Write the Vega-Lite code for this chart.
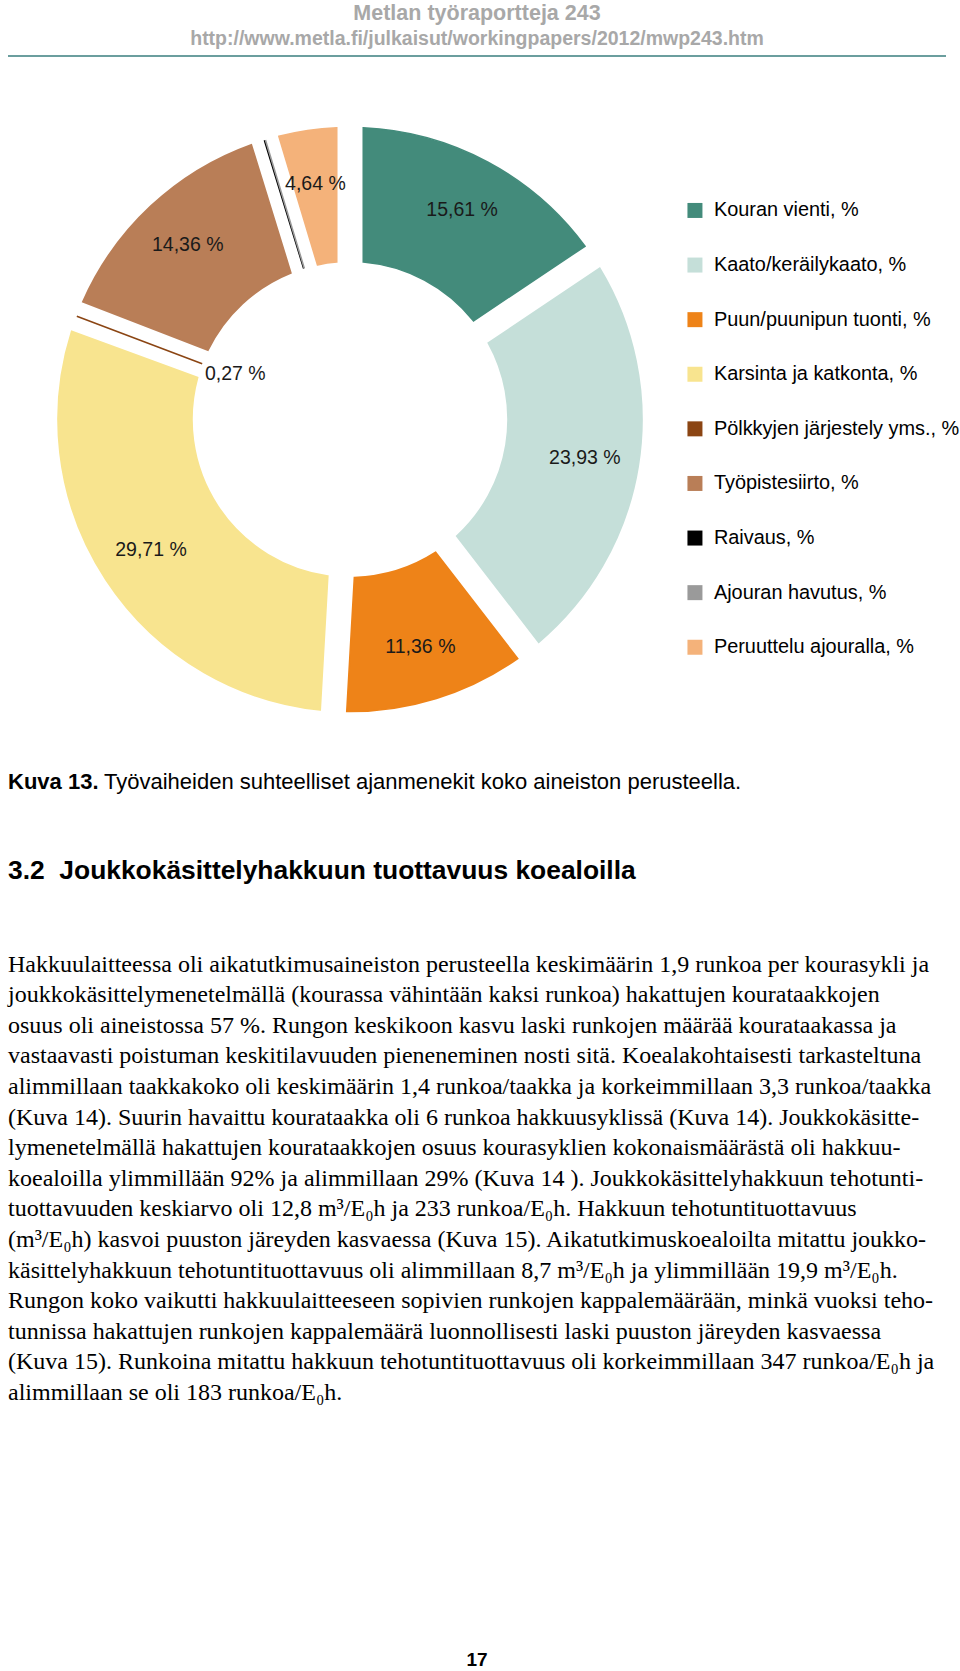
{
  "$schema": "https://vega.github.io/schema/vega-lite/v6.json",
  "background": "white",
  "padding": {"left": 8, "top": 3, "right": 0, "bottom": 0},
  "bounds": "flush",
  "spacing": 0,
  "config": {"view": {"stroke": null}, "font": "Liberation Sans"},
  "datasets": {
    "shares": [
      {"nr": 1, "vaihe": "Kouran vienti, %", "osuus": 15.61, "label": "15,61 %"},
      {"nr": 2, "vaihe": "Kaato/keräilykaato, %", "osuus": 23.93, "label": "23,93 %"},
      {"nr": 3, "vaihe": "Puun/puunipun tuonti, %", "osuus": 11.36, "label": "11,36 %"},
      {"nr": 4, "vaihe": "Karsinta ja katkonta, %", "osuus": 29.71, "label": "29,71 %"},
      {"nr": 5, "vaihe": "Pölkkyjen järjestely yms., %", "osuus": 0.27, "label": "0,27 %"},
      {"nr": 6, "vaihe": "Työpistesiirto, %", "osuus": 14.36, "label": "14,36 %"},
      {"nr": 7, "vaihe": "Raivaus, %", "osuus": 0.05, "label": ""},
      {"nr": 8, "vaihe": "Ajouran havutus, %", "osuus": 0.07, "label": ""},
      {"nr": 9, "vaihe": "Peruuttelu ajouralla, %", "osuus": 4.64, "label": "4,64 %"}
    ]
  },
  "vconcat": [
    {
      "width": 938,
      "height": 2,
      "view": {"fill": "#6b9e9e", "stroke": null},
      "title": {
        "text": "Metlan työraportteja 243",
        "subtitle": "http://www.metla.fi/julkaisut/workingpapers/2012/mwp243.htm",
        "anchor": "middle",
        "font": "Liberation Sans",
        "fontSize": 21.5,
        "fontWeight": "bold",
        "color": "#a8a8a8",
        "subtitleFont": "Liberation Sans",
        "subtitleFontSize": 19.5,
        "subtitleFontWeight": "bold",
        "subtitleColor": "#a8a8a8",
        "subtitlePadding": 4.8,
        "offset": 1.8
      },
      "data": {"values": [{}]},
      "mark": {"type": "text", "text": ""},
      "encoding": {}
    },
    {
      "width": 684,
      "height": 725,
      "data": {"name": "shares"},
      "encoding": {
        "theta": {"field": "osuus", "type": "quantitative", "stack": true},
        "order": {"field": "nr", "type": "quantitative"},
        "color": {
          "field": "vaihe",
          "type": "nominal",
          "scale": {
            "domain": ["Kouran vienti, %", "Kaato/keräilykaato, %", "Puun/puunipun tuonti, %", "Karsinta ja katkonta, %", "Pölkkyjen järjestely yms., %", "Työpistesiirto, %", "Raivaus, %", "Ajouran havutus, %", "Peruuttelu ajouralla, %"],
            "range": ["#438b7b", "#c5dfd9", "#ee8318", "#f8e48f", "#8b4513", "#b97e57", "#000000", "#9a9a9a", "#f4b27a"]
          },
          "legend": {
            "orient": "none",
            "legendX": 677,
            "legendY": 145.5,
            "title": null,
            "symbolType": "square",
            "symbolSize": 225,
            "symbolStrokeWidth": 0,
            "labelFont": "Liberation Sans",
            "labelFontSize": 19.9,
            "labelColor": "#000000",
            "labelOffset": 9,
            "labelLimit": 400,
            "rowPadding": 33.6
          }
        }
      },
      "layer": [
        {
          "mark": {"type": "arc", "innerRadius": 158, "outerRadius": 292, "padAngle": 0.08, "strokeWidth": 1.6},
          "encoding": {
            "stroke": {
              "field": "vaihe",
              "type": "nominal",
              "scale": {
                "domain": ["Kouran vienti, %", "Kaato/keräilykaato, %", "Puun/puunipun tuonti, %", "Karsinta ja katkonta, %", "Pölkkyjen järjestely yms., %", "Työpistesiirto, %", "Raivaus, %", "Ajouran havutus, %", "Peruuttelu ajouralla, %"],
                "range": ["#438b7b", "#c5dfd9", "#ee8318", "#f8e48f", "#8b4513", "#b97e57", "#000000", "#9a9a9a", "#f4b27a"]
              },
              "legend": null
            }
          }
        },
        {
          "mark": {"type": "text", "radius": 238, "font": "Liberation Sans", "fontSize": 19.5},
          "encoding": {
            "text": {"condition": {"test": "datum.osuus < 1", "value": ""}, "field": "label"},
            "color": {"value": "#1a1a1a"}
          }
        },
        {
          "mark": {"type": "text", "radius": 155, "align": "left", "dy": 9, "font": "Liberation Sans", "fontSize": 19.5},
          "encoding": {
            "text": {"condition": {"test": "datum.osuus > 0.2 && datum.osuus < 1", "field": "label"}, "value": ""},
            "color": {"value": "#1a1a1a"}
          }
        }
      ]
    },
    {
      "hconcat": [
        {
          "width": 96,
          "height": 1,
          "title": {"text": "Kuva 13.", "anchor": "start", "orient": "top", "offset": -17.3, "font": "Liberation Sans", "fontSize": 22, "fontWeight": "bold", "color": "#000000"},
          "data": {"values": [{}]},
          "mark": {"type": "text", "text": ""},
          "encoding": {}
        },
        {
          "width": 840,
          "height": 1,
          "title": {"text": "Työvaiheiden suhteelliset ajanmenekit koko aineiston perusteella.", "anchor": "start", "orient": "top", "offset": -17.3, "font": "Liberation Sans", "fontSize": 22, "fontWeight": "normal", "color": "#000000"},
          "data": {"values": [{}]},
          "mark": {"type": "text", "text": ""},
          "encoding": {}
        }
      ],
      "spacing": 0,
      "bounds": "flush"
    },
    {
      "width": 938,
      "height": 1,
      "title": {
        "text": "3.2\u00a0\u00a0Joukkokäsittelyhakkuun tuottavuus koealoilla",
        "orient": "bottom",
        "anchor": "start",
        "offset": 70.5,
        "font": "Liberation Sans",
        "fontSize": 26.4,
        "fontWeight": "bold",
        "color": "#000000",
        "subtitle": [
          "Hakkuulaitteessa oli aikatutkimusaineiston perusteella keskimäärin 1,9 runkoa per kourasykli ja",
          "joukkokäsittelymenetelmällä (kourassa vähintään kaksi runkoa) hakattujen kourataakkojen",
          "osuus oli aineistossa 57 %. Rungon keskikoon kasvu laski runkojen määrää kourataakassa ja",
          "vastaavasti poistuman keskitilavuuden pieneneminen nosti sitä. Koealakohtaisesti tarkasteltuna",
          "alimmillaan taakkakoko oli keskimäärin 1,4 runkoa/taakka ja korkeimmillaan 3,3 runkoa/taakka",
          "(Kuva 14). Suurin havaittu kourataakka oli 6 runkoa hakkuusyklissä (Kuva 14). Joukkokäsitte-",
          "lymenetelmällä hakattujen kourataakkojen osuus kourasyklien kokonaismäärästä oli hakkuu-",
          "koealoilla ylimmillään 92% ja alimmillaan 29% (Kuva 14 ). Joukkokäsittelyhakkuun tehotunti-",
          "tuottavuuden keskiarvo oli 12,8 m³/E₀h ja 233 runkoa/E₀h. Hakkuun tehotuntituottavuus",
          "(m³/E₀h) kasvoi puuston järeyden kasvaessa (Kuva 15). Aikatutkimuskoealoilta mitattu joukko-",
          "käsittelyhakkuun tehotuntituottavuus oli alimmillaan 8,7 m³/E₀h ja ylimmillään 19,9 m³/E₀h.",
          "Rungon koko vaikutti hakkuulaitteeseen sopivien runkojen kappalemäärään, minkä vuoksi teho-",
          "tunnissa hakattujen runkojen kappalemäärä luonnollisesti laski puuston järeyden kasvaessa",
          "(Kuva 15). Runkoina mitattu hakkuun tehotuntituottavuus oli korkeimmillaan 347 runkoa/E₀h ja",
          "alimmillaan se oli 183 runkoa/E₀h."
        ],
        "subtitleFont": "Liberation Serif",
        "subtitleFontSize": 24,
        "subtitleFontWeight": "normal",
        "subtitleColor": "#000000",
        "subtitleLineHeight": 30.6,
        "subtitlePadding": 68.1
      },
      "data": {"values": [{}]},
      "mark": {"type": "text", "text": ""},
      "encoding": {}
    },
    {
      "width": 938,
      "height": 1,
      "title": {"text": "17", "orient": "bottom", "anchor": "middle", "offset": 862.7, "font": "Liberation Sans", "fontSize": 19, "fontWeight": "bold", "color": "#000000"},
      "data": {"values": [{}]},
      "mark": {"type": "text", "text": ""},
      "encoding": {}
    }
  ]
}
